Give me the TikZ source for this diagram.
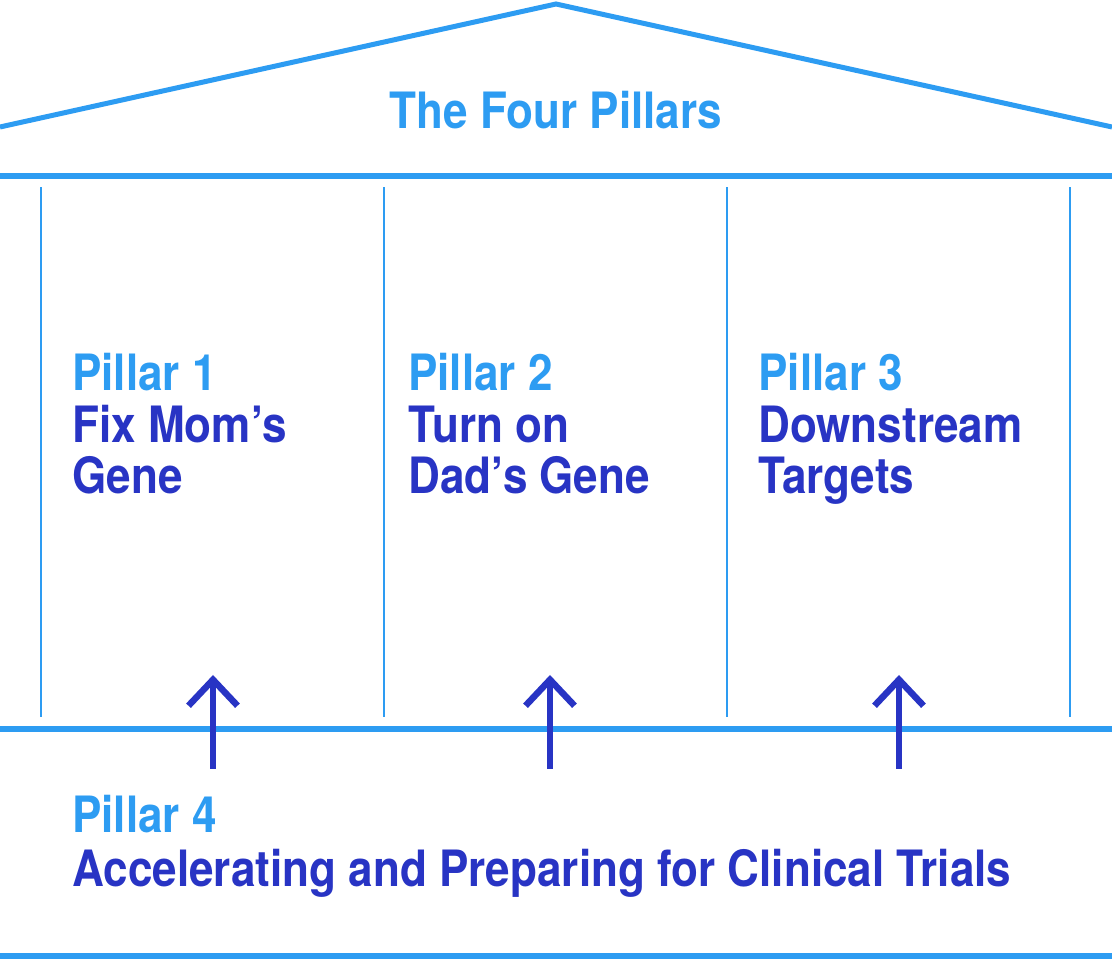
\documentclass[tikz,border=0pt]{standalone}
\usepackage{fontspec}
\setmainfont{TeX Gyre Heros}[FakeStretch=0.88]
\usepackage{tikz}
\usetikzlibrary{
  arrows.meta,
  positioning,
}
\definecolor{roofblue}{HTML}{2D9CF2}
\definecolor{textnavy}{HTML}{2834C4}

\begin{document}
\begin{tikzpicture}[
  x=0.02cm, y=0.02cm,
  font=\bfseries\fontsize{28.5}{29.5}\selectfont,
  beam/.style={draw=roofblue, line width=3.4pt},
  column/.style={draw=roofblue, line width=1.4pt},
  lift/.style={draw=textnavy, line width=3.7pt,
               -{Straight Barb[length=0.52cm,width=0.98cm]}},
  pillartext/.style={anchor=base west, align=left, inner sep=0pt,
                     text=textnavy},
]

\useasboundingbox (0,0) rectangle (1112,960);

% roof and beams
\draw[beam, line width=2.85pt, line join=miter] (0,833) -- (556,956) -- (1112,833);
\foreach \y in {784,231,4}{
  \draw[beam] (0,\y) -- (1112,\y);
}

% columns
\foreach \x in {41,384,727,1070}{
  \draw[column] (\x,243) -- (\x,773);
}

\node[text=roofblue, anchor=base, inner sep=0pt] (title) at (556,831)
  {The Four Pillars};

% base anchor sits on the last line
\node[pillartext] (p1) at (72,466)
  {\textcolor{roofblue}{Pillar 1}\\Fix Mom’s\\Gene};
\node[pillartext] (p2) at (408,466)
  {\textcolor{roofblue}{Pillar 2}\\Turn on\\Dad’s Gene};
\node[pillartext] (p3) at (758,466)
  {\textcolor{roofblue}{Pillar 3}\\Downstream\\Targets};
\node[pillartext, font=\bfseries\fontsize{28.5}{31.3}\selectfont] (p4) at (72,73)
  {\textcolor{roofblue}{Pillar 4}\\Accelerating and Preparing for Clinical Trials};

% arrows up from the base
\foreach \x [count=\i] in {213,550,899}{
  \coordinate (foot\i) at (\x,191);
  \coordinate (head\i) at (\x,285);
  \draw[lift] (foot\i) -- (head\i);
}

\end{tikzpicture}
\end{document}
